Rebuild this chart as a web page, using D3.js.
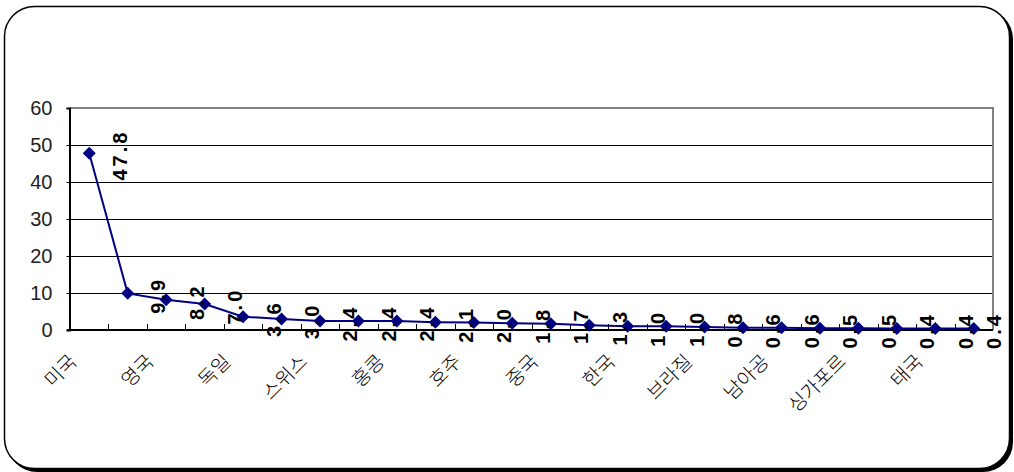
<!DOCTYPE html>
<html>
<head>
<meta charset="utf-8">
<script src="https://cdn.jsdelivr.net/npm/d3@7"></script>
<style>
  html, body { margin: 0; padding: 0; background: #fff; }
  svg { display: block; }
</style>
</head>
<body>
<svg id="chart" width="1014" height="472"></svg>
<script>
// Share by country (%), 24 countries ranked; every other name shown on the axis
const values = [47.8, 9.9, 8.2, 7.0, 3.6, 3.0, 2.4, 2.4, 2.4, 2.1, 2.0, 1.8,
                1.7, 1.3, 1.0, 1.0, 0.8, 0.6, 0.6, 0.5, 0.5, 0.4, 0.4, 0.4];
const axisLabelIndex = [0, 2, 4, 6, 8, 10, 12, 14, 16, 18, 20, 22];
const axisLabels = ["미국", "영국", "독일", "스위스", "홍콩", "호주",
                    "중국", "한국", "브라질", "남아공", "싱가포르", "태국"];
const yTicks = [0, 10, 20, 30, 40, 50, 60];

const svg = d3.select("#chart");

// Frame: rounded box with a drop shadow
svg.append("rect").attr("x", 7).attr("y", 9).attr("width", 1006).attr("height", 463)
  .attr("rx", 30).attr("ry", 30).attr("fill", "#000");
svg.append("rect").attr("x", 4.5).attr("y", 6.5).attr("width", 1005).attr("height", 462)
  .attr("rx", 30).attr("ry", 30).attr("fill", "#fff").attr("stroke", "#000").attr("stroke-width", 1.5);

const plot = { left: 70, right: 993, top: 108, bottom: 330 };

const x = d3.scaleBand().domain(d3.range(values.length))
  .range([plot.left, plot.right]).paddingInner(0).paddingOuter(0);
const y = d3.scaleLinear().domain([0, 60]).range([plot.bottom, plot.top]);
const cx = i => x(i) + x.bandwidth() / 2;

// Gridlines
svg.append("g").selectAll("line").data(yTicks.filter(t => t > 0 && t < 60)).join("line")
  .attr("x1", plot.left).attr("x2", plot.right)
  .attr("y1", d => Math.round(y(d)) + 0.5).attr("y2", d => Math.round(y(d)) + 0.5)
  .attr("stroke", "#000").attr("stroke-width", 1);

// Plot-area border (top and right)
svg.append("path")
  .attr("d", `M${plot.left},${plot.top} H${plot.right} V${plot.bottom}`)
  .attr("fill", "none").attr("stroke", "#808080").attr("stroke-width", 2);

// Y axis
const yAxis = d3.axisLeft(y).tickValues(yTicks).tickSize(3).tickPadding(14);
const gy = svg.append("g").attr("transform", `translate(${plot.left - 0.5},0)`).call(yAxis);
gy.select(".domain").attr("stroke", "#000").attr("stroke-width", 2);
gy.selectAll(".tick line").attr("stroke", "#000");
gy.selectAll(".tick text")
  .attr("font-family", "'Liberation Sans', Arial, sans-serif")
  .attr("font-size", 20).attr("fill", "#222");

// X axis: tick marks between categories, pointing into the plot
const bounds = d3.range(1, values.length).map(i => x(i));
const gx = svg.append("g");
gx.append("line").attr("x1", plot.left - 3).attr("x2", plot.right)
  .attr("y1", plot.bottom).attr("y2", plot.bottom)
  .attr("stroke", "#000").attr("stroke-width", 2);
gx.selectAll("line.tk").data(bounds).join("line").attr("class", "tk")
  .attr("x1", d => Math.round(d) + 0.5).attr("x2", d => Math.round(d) + 0.5)
  .attr("y1", plot.bottom - 6).attr("y2", plot.bottom + 1)
  .attr("stroke", "#000").attr("stroke-width", 1);

gx.selectAll("text").data(axisLabels).join("text")
  .attr("transform", (d, k) => `translate(${cx(axisLabelIndex[k]) - 16},${plot.bottom + 28}) rotate(-45)`)
  .attr("text-anchor", "end")
  .attr("dy", "0.35em")
  .attr("font-family", "'Noto Sans CJK KR', sans-serif")
  .attr("font-weight", 300)
  .attr("font-size", 19.5).attr("fill", "#000")
  .text(d => d);

// Series line and diamond markers
const line = d3.line().x((d, i) => cx(i)).y(d => y(d));
svg.append("path").datum(values).attr("d", line)
  .attr("fill", "none").attr("stroke", "#000080").attr("stroke-width", 2);

const r = 6.5;
svg.append("g").selectAll("path").data(values).join("path")
  .attr("d", (d, i) => {
    const px = cx(i), py = y(d);
    return `M${px},${py - r} L${px + r},${py} L${px},${py + r} L${px - r},${py} Z`;
  })
  .attr("fill", "#000080");

// Value labels, vertical, just right of each marker
svg.append("g").selectAll("text").data(values).join("text")
  .attr("transform", (d, i) => {
    const bx = Math.min(cx(i) + x.bandwidth() - 1, 1001);
    return `translate(${bx},${y(d) + 2}) rotate(-90)`;
  })
  .attr("text-anchor", "middle")
  .attr("font-family", "'Liberation Sans', Arial, sans-serif")
  .attr("font-size", 20).attr("font-weight", "bold").attr("letter-spacing", 3)
  .attr("fill", "#000")
  .text(d => d.toFixed(1));
</script>
</body>
</html>
